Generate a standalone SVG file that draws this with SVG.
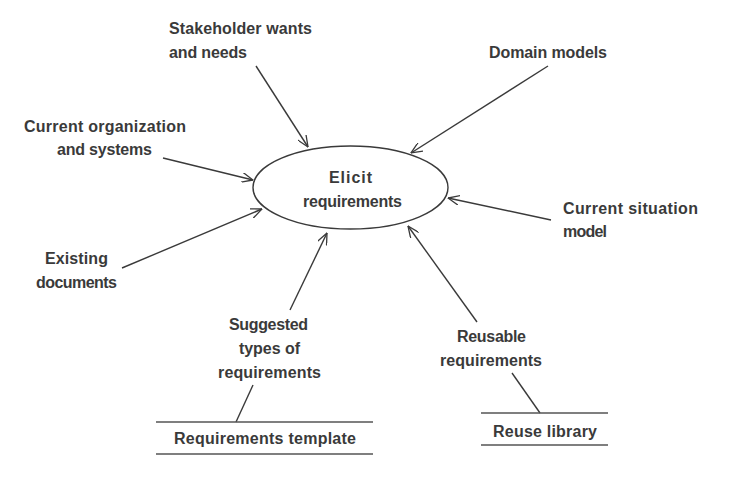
<svg xmlns="http://www.w3.org/2000/svg" width="730" height="477" viewBox="0 0 730 477">
<defs>
<style>
text{font-family:"Liberation Sans","DejaVu Sans",sans-serif;font-size:16px;font-weight:bold;fill:#3a3a3a;}
.ln{stroke:#3a3a3a;stroke-width:1.4;fill:none;}
.ar{marker-end:url(#arr);}
.st{stroke:#555;stroke-width:1.6;}
</style>
<marker id="arr" viewBox="0 0 12 10" refX="11.5" refY="5" markerWidth="12" markerHeight="10" markerUnits="userSpaceOnUse" orient="auto">
<path d="M0,0 L11.5,5 L0,10" fill="none" stroke="#3a3a3a" stroke-width="1.3"/>
</marker>
</defs>
<rect width="730" height="477" fill="#fff"/>
<g id="connectors">
<line class="ln ar" x1="256" y1="66" x2="308" y2="147"/>
<line class="ln ar" x1="163" y1="158" x2="253" y2="180"/>
<line class="ln ar" x1="122" y1="268" x2="262" y2="209"/>
<line class="ln ar" x1="548" y1="66" x2="411" y2="153"/>
<line class="ln ar" x1="551" y1="220" x2="448" y2="198"/>
<line class="ln ar" x1="290" y1="310" x2="327" y2="233"/>
<line class="ln ar" x1="477" y1="322" x2="408" y2="226"/>
<line class="ln" x1="236" y1="422" x2="253" y2="385"/>
<line class="ln" x1="540" y1="413" x2="512" y2="373"/>
</g>
<g id="elicit">
<ellipse cx="350.5" cy="187.5" rx="97.5" ry="41.5" class="ln"/>
<text x="329" y="183" textLength="43">Elicit</text>
<text x="303" y="207" textLength="99">requirements</text>
</g>
<g id="stakeholder">
<text x="169" y="34" textLength="143">Stakeholder wants</text>
<text x="169" y="58" textLength="78">and needs</text>
</g>
<g id="current-org">
<text x="24" y="132" textLength="162">Current organization</text>
<text x="57" y="155" textLength="95">and systems</text>
</g>
<g id="domain">
<text x="489" y="58" textLength="118">Domain models</text>
</g>
<g id="current-situation">
<text x="563" y="214" textLength="135">Current situation</text>
<text x="563" y="237" textLength="44">model</text>
</g>
<g id="existing">
<text x="45" y="264" textLength="63">Existing</text>
<text x="36" y="288" textLength="81">documents</text>
</g>
<g id="suggested">
<text x="229" y="330" textLength="79">Suggested</text>
<text x="239" y="354" textLength="61">types of</text>
<text x="218" y="378" textLength="103">requirements</text>
</g>
<g id="reusable">
<text x="457" y="342" textLength="69">Reusable</text>
<text x="440" y="366" textLength="102">requirements</text>
</g>
<g id="requirements-template">
<line class="st" x1="156" y1="422" x2="373" y2="422"/>
<line class="st" x1="156" y1="454" x2="373" y2="454"/>
<text x="174" y="444" textLength="182">Requirements template</text>
</g>
<g id="reuse-library">
<line class="st" x1="481" y1="413" x2="608" y2="413"/>
<line class="st" x1="481" y1="445" x2="608" y2="445"/>
<text x="493" y="437" textLength="104">Reuse library</text>
</g>
</svg>
